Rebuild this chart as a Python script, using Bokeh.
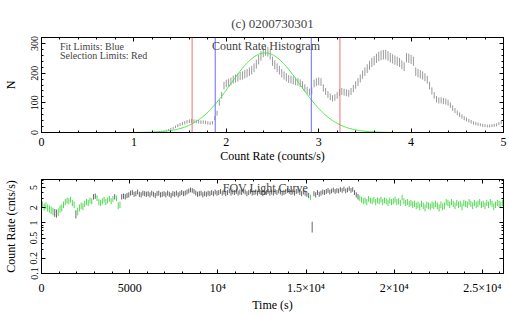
import numpy as np
from bokeh.plotting import figure
from bokeh.layouts import column
from bokeh.models import (ColumnDataSource, Span, Label, LinearAxis, LogAxis,
                          FixedTicker, CustomLabelingPolicy)
from bokeh.embed import file_html
from bokeh.resources import INLINE

# ---------------- data ----------------
TITLE = "(c) 0200730301"

# Count-rate histogram (bin width 0.025 counts/s, first bin centre 1.0)
HIST_START = 1.0
HIST_BIN = 0.025
HIST_COUNTS = [
    0, 0, 0, 0,
    1, 1, 1, 1,
    1, 2, 2, 3,
    4, 5, 7, 9,
    12, 15, 19, 23,
    27, 30, 33, 36,
    38, 39, 38, 37,
    36, 35, 35, 34,
    32, 31, 33, 48,
    65, 100, 125, 158,
    165, 168, 172, 178,
    182, 185, 190, 192,
    196, 200, 205, 210,
    218, 230, 245, 258,
    270, 275, 272, 262,
    240, 228, 218, 210,
    200, 192, 186, 180,
    178, 175, 172, 170,
    166, 160, 150, 142,
    136, 140, 165, 170,
    172, 170, 150, 138,
    128, 120, 115, 118,
    125, 135, 138, 136,
    134, 132, 138, 148,
    160, 170, 182, 195,
    205, 215, 226, 236,
    242, 250, 256, 260,
    262, 262, 258, 252,
    248, 244, 240, 236,
    228, 222, 252, 250,
    246, 240, 205, 200,
    196, 192, 186, 178,
    158, 140, 125, 112,
    108, 108, 106, 104,
    100, 92, 82, 74,
    66, 60, 54, 48,
    44, 40, 36, 32,
    30, 28, 26, 24,
    23, 22, 22, 23,
    24, 26, 30, 34,
    36,
]

# Gaussian fit parameters
FIT_AMP = 268.0
FIT_MEAN = 2.42
FIT_SIGMA = 0.375

FIT_LIMITS = [1.88, 2.92]
SEL_LIMITS = [1.63, 3.23]

# FOV light curve (100 s bins, first bin centre 50 s)
LC_START = 50
LC_BIN = 100
LC_EXPOSURE = 20.0
LC_RATES = [
    2.3, 2.1, 2.2, 2.0, 1.9, 1.8, 1.7, 1.6, 1.55, 1.65,
    1.9, 2.0, 2.3, 2.6, 2.8, 2.7, 2.9, 2.5, 2.3, 1.5,
    1.7, 2.0, 2.2, 2.1, 2.4, 2.6, 2.5, 2.8, 2.7, 3.3,
    3.4, 3.1, 2.6, 2.5, 2.7, 2.9, 2.6, 2.8, 3.0, 2.7,
    3.0, 3.3, 3.1, 2.2, 2.3, 3.3, 3.4, 3.3, 3.5, 3.6,
    3.9, 4.0, 3.7, 3.8, 4.1, 3.7, 3.6, 3.9, 3.8, 3.7,
    3.8, 3.6, 3.9, 3.7, 3.5, 3.8, 3.9, 3.6, 3.7, 3.8,
    3.6, 3.9, 3.7, 3.5, 3.8, 3.7, 3.9, 3.6, 3.8, 4.0,
    3.8, 3.9, 4.1, 4.3, 4.5, 4.4, 4.2, 3.9, 3.7, 3.8,
    3.9, 3.6, 3.8, 3.7, 3.9, 3.8, 4.0, 3.8, 4.1, 3.9,
    4.0, 4.2, 3.9, 4.1, 3.8, 4.0, 4.3, 3.9, 4.1, 4.0,
    4.2, 3.9, 4.1, 4.0, 4.3, 4.1, 3.8, 4.0, 4.2, 3.9,
    4.0, 4.1, 3.9, 4.2, 4.0, 3.8, 4.1, 4.0, 4.2, 3.9,
    4.1, 3.9, 4.2, 4.0, 4.3, 4.1, 3.9, 4.0, 4.2, 4.4,
    4.2, 4.0, 4.1, 3.9, 4.2, 4.3, 4.0, 3.8, 4.1, 3.9,
    3.7, 3.5, 3.2, 0.85, 3.8, 3.6, 4.0, 3.7, 3.9, 4.1,
    4.0, 4.2, 4.4, 4.1, 4.3, 4.5, 4.2, 4.4, 4.3, 4.6,
    4.4, 4.7, 4.3, 4.5, 4.8, 4.4, 4.6, 4.0, 3.6, 3.3,
    3.1, 2.9, 2.7, 2.8, 2.6, 3.0, 2.8, 2.7, 2.9, 2.6,
    2.8, 2.7, 2.9, 2.6, 2.8, 2.7, 2.5, 2.8, 2.6, 2.7,
    2.9, 2.6, 2.7, 2.5, 3.2, 2.7, 2.5, 2.6, 2.4, 2.5,
    2.3, 2.4, 2.2, 2.3, 2.1, 2.4, 2.2, 2.0, 2.3, 2.2,
    2.1, 2.3, 2.2, 2.4, 2.2, 2.0, 2.3, 2.1, 2.2, 2.6,
    2.5, 2.3, 2.6, 2.4, 2.2, 2.5, 2.3, 2.4, 2.1, 2.5,
    2.4, 2.3, 2.6, 2.4, 2.2, 2.5, 2.3, 2.4, 2.6, 2.3,
    2.4, 2.2, 2.5, 2.3, 2.6, 2.4, 2.1, 2.3, 2.5, 2.4,
    2.3, 2.5,
]

TOP_XRANGE = (0, 5)
TOP_YRANGE = (0, 320)
TOP_YTICKS = [0, 100, 200, 300]
BOT_XRANGE = (0, 26200)
BOT_YRANGE = (0.1, 7.2)
BOT_YTICKS = [0.1, 0.2, 0.5, 1, 2, 5]
BOT_YMINOR = [0.3, 0.4, 0.6, 0.7, 0.8, 0.9, 3, 4, 6, 7]
BOT_XTICKS = [0, 5000, 10000, 15000, 20000, 25000]
BOT_XLABELS = ["0", "5000", "10\u2074", "1.5\u00d710\u2074", "2\u00d710\u2074", "2.5\u00d710\u2074"]

# ---------------- style ----------------
FONT = "Liberation Serif"
HIST_COLOR = "#9a9a9a"
FIT_COLOR = "#44e844"
LC_IN_COLOR = "#55d855"
LC_OUT_COLOR = "#6a6a6a"
RED = "#f07070"
BLUE = "#6a6aff"


def style_axis(ax, label_size="12px"):
    ax.major_tick_in = 4
    ax.major_tick_out = 0
    ax.minor_tick_in = 2
    ax.minor_tick_out = 0
    ax.axis_line_color = "black"
    ax.major_tick_line_color = "black"
    ax.minor_tick_line_color = "black"
    ax.major_label_text_font = FONT
    ax.major_label_text_font_size = label_size
    ax.major_label_text_color = "black"
    ax.axis_label_text_font = FONT
    ax.axis_label_text_font_size = "12px"
    ax.axis_label_text_font_style = "normal"
    ax.axis_label_text_color = "black"


def blank_axis(ax):
    style_axis(ax)
    ax.major_label_text_font_size = "0px"
    ax.major_label_standoff = 0
    ax.major_label_policy = CustomLabelingPolicy(code="return new Set()")
    ax.axis_label = None


# ---------------- top panel: histogram ----------------
counts = np.array(HIST_COUNTS, dtype=float)
hx = HIST_START + HIST_BIN * np.arange(len(counts))
herr = np.sqrt(counts)
hsrc = ColumnDataSource(dict(x=hx, y0=counts - herr, y1=counts + herr))

p1 = figure(width=509, height=168, x_range=TOP_XRANGE, y_range=TOP_YRANGE,
            output_backend="svg", toolbar_location=None,
            min_border_left=40, min_border_right=6, min_border_top=37,
            min_border_bottom=36)
p1.title.text = TITLE
p1.title.align = "center"
p1.title.vertical_align = "top"
p1.title.text_font = FONT
p1.title.text_font_size = "13px"
p1.title.text_font_style = "normal"
p1.title.standoff = 10
p1.xgrid.visible = False
p1.ygrid.visible = False
p1.outline_line_color = "black"

p1.segment(x0="x", y0="y0", x1="x", y1="y1", source=hsrc, color=HIST_COLOR, line_width=1)

gx = np.linspace(TOP_XRANGE[0], TOP_XRANGE[1], 501)
gy = FIT_AMP * np.exp(-0.5 * ((gx - FIT_MEAN) / FIT_SIGMA) ** 2)
p1.line(gx, gy, color=FIT_COLOR, line_width=1)

for xv in SEL_LIMITS:
    p1.add_layout(Span(location=xv, dimension="height", line_color=RED, line_width=1))
for xv in FIT_LIMITS:
    p1.add_layout(Span(location=xv, dimension="height", line_color=BLUE, line_width=1))

p1.xaxis.axis_label = "Count Rate (counts/s)"
p1.yaxis.axis_label = "N"
p1.yaxis.ticker = FixedTicker(ticks=TOP_YTICKS, minor_ticks=list(range(0, 321, 20)))
p1.xaxis.ticker.num_minor_ticks = 5
for ax in p1.xaxis:
    style_axis(ax)
    ax.major_label_standoff = 5
    ax.axis_label_standoff = 0
for ax in p1.yaxis:
    style_axis(ax, "10px")
    ax.major_label_orientation = "vertical"
    ax.major_label_standoff = 4
    ax.axis_label_standoff = 10

top1 = LinearAxis()
blank_axis(top1)
p1.add_layout(top1, "above")
right1 = LinearAxis(ticker=FixedTicker(ticks=TOP_YTICKS, minor_ticks=list(range(0, 321, 20))))
blank_axis(right1)
p1.add_layout(right1, "right")

p1.add_layout(Label(x=2.43, y=290, text="Count Rate Histogram", text_font=FONT,
                    text_font_size="12px", text_align="center", text_baseline="middle"))
p1.add_layout(Label(x=0.2, y=290, text="Fit Limits: Blue", text_font=FONT,
                    text_font_size="10px", text_align="left", text_baseline="middle"))
p1.add_layout(Label(x=0.2, y=259, text="Selection Limits: Red", text_font=FONT,
                    text_font_size="10px", text_align="left", text_baseline="middle"))

# ---------------- bottom panel: light curve ----------------
rates = np.array(LC_RATES, dtype=float)
t = LC_START + LC_BIN * np.arange(len(rates))
lerr = np.sqrt(rates * LC_EXPOSURE) / LC_EXPOSURE
inside = (rates >= SEL_LIMITS[0]) & (rates <= SEL_LIMITS[1])
colors = np.where(inside, LC_IN_COLOR, LC_OUT_COLOR)
lsrc = ColumnDataSource(dict(t=t, y0=rates - lerr, y1=rates + lerr, c=colors))

p2 = figure(width=509, height=147, x_range=BOT_XRANGE, y_range=BOT_YRANGE,
            y_axis_type="log", output_backend="svg", toolbar_location=None,
            min_border_left=40, min_border_right=6, min_border_top=11,
            min_border_bottom=42)
p2.xgrid.visible = False
p2.ygrid.visible = False
p2.outline_line_color = "black"

p2.segment(x0="t", y0="y0", x1="t", y1="y1", source=lsrc, color="c", line_width=1)

p2.xaxis.axis_label = "Time (s)"
p2.yaxis.axis_label = "Count Rate (cnts/s)"
p2.xaxis.ticker = FixedTicker(ticks=BOT_XTICKS, minor_ticks=list(range(0, 26201, 1000)))
p2.xaxis.major_label_overrides = {v: s for v, s in zip(BOT_XTICKS, BOT_XLABELS)}
p2.yaxis.ticker = FixedTicker(ticks=BOT_YTICKS, minor_ticks=BOT_YMINOR)
p2.yaxis.major_label_overrides = {v: str(v) for v in BOT_YTICKS}
for ax in p2.xaxis:
    style_axis(ax)
    ax.major_label_standoff = 7
    ax.axis_label_standoff = 0
for ax in p2.yaxis:
    style_axis(ax, "10px")
    ax.major_label_orientation = "vertical"
    ax.major_label_standoff = 4
    ax.axis_label_standoff = 10

top2 = LinearAxis(ticker=FixedTicker(ticks=BOT_XTICKS, minor_ticks=list(range(0, 26201, 1000))))
blank_axis(top2)
p2.add_layout(top2, "above")
right2 = LogAxis(ticker=FixedTicker(ticks=BOT_YTICKS, minor_ticks=BOT_YMINOR))
blank_axis(right2)
p2.add_layout(right2, "right")

p2.add_layout(Label(x=12700, y=4.8, text="FOV Light Curve", text_font=FONT,
                    text_font_size="12px", text_align="center", text_baseline="middle"))

layout = column(p1, p2)
open("out.html", "w").write(file_html(layout, INLINE))
